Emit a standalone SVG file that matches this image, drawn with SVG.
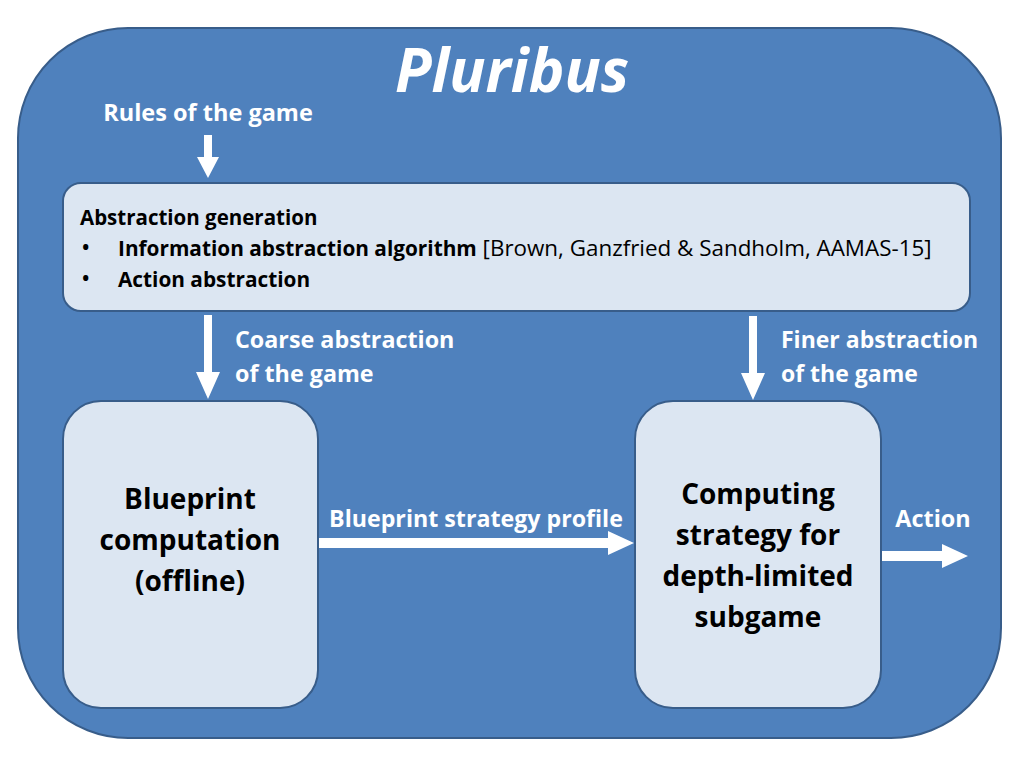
<svg xmlns="http://www.w3.org/2000/svg" width="1024" height="768" viewBox="0 0 1024 768">
<defs>
<style>
.box{fill:#dce6f2;stroke:#385d8a;stroke-width:2}
.wt{fill:#ffffff;font-family:"Open Sans","Noto Sans",sans-serif;font-weight:bold}
.bt{fill:#000000;font-family:"Open Sans","Noto Sans",sans-serif}
.arr{fill:#ffffff}
</style>
</defs>
<rect width="1024" height="768" fill="#ffffff"/>
<g id="frame">
<rect x="18" y="28" width="983" height="710" rx="110" ry="110" fill="#4f81bd" stroke="#385d8a" stroke-width="2"/>
<text x="512" y="92" text-anchor="middle" class="wt" font-style="italic" font-size="60">Pluribus</text>
<text x="208" y="121" text-anchor="middle" class="wt" font-size="23.5">Rules of the game</text>
</g>
<g id="abstraction">
<rect x="63" y="183" width="907" height="128" rx="18" ry="18" class="box"/>
<text x="80" y="225" class="bt" font-weight="bold" font-size="20.5">Abstraction generation</text>
<text x="81" y="256" class="bt" font-size="25">•</text>
<text x="118" y="256" class="bt" font-size="20.8"><tspan font-weight="bold">Information abstraction algorithm</tspan><tspan font-size="22.4"> [Brown, Ganzfried &amp; Sandholm, AAMAS-15]</tspan></text>
<text x="81" y="287" class="bt" font-size="25">•</text>
<text x="118" y="287" class="bt" font-weight="bold" font-size="20.8">Action abstraction</text>
</g>
<g id="blueprint">
<rect x="63" y="401" width="255" height="307" rx="38" ry="38" class="box"/>
<text x="190" y="509" text-anchor="middle" class="bt" font-weight="bold" font-size="28">Blueprint</text>
<text x="190" y="550" text-anchor="middle" class="bt" font-weight="bold" font-size="28">computation</text>
<text x="190" y="591" text-anchor="middle" class="bt" font-weight="bold" font-size="28">(offline)</text>
</g>
<g id="computing">
<rect x="635" y="401" width="246" height="307" rx="38" ry="38" class="box"/>
<text x="758" y="504" text-anchor="middle" class="bt" font-weight="bold" font-size="28">Computing</text>
<text x="758" y="545" text-anchor="middle" class="bt" font-weight="bold" font-size="28">strategy for</text>
<text x="758" y="586" text-anchor="middle" class="bt" font-weight="bold" font-size="28">depth-limited</text>
<text x="758" y="627" text-anchor="middle" class="bt" font-weight="bold" font-size="28">subgame</text>
</g>
<g id="connectors">
<polygon class="arr" points="204,135 212,135 212,157 219,157 208,178 197,157 204,157"/>
<polygon class="arr" points="204,315 212,315 212,372 220,372 208,399 196,372 204,372"/>
<polygon class="arr" points="749,316 757,316 757,373 765,373 753,400 741,373 749,373"/>
<polygon class="arr" points="319,538 608,538 608,531 634,543 608,555 608,548 319,548"/>
<polygon class="arr" points="882,551 942,551 942,544 968,556 942,568 942,561 882,561"/>
<text x="235" y="348" class="wt" font-size="23.3">Coarse abstraction</text>
<text x="235" y="382" class="wt" font-size="23.3">of the game</text>
<text x="781" y="348" class="wt" font-size="23">Finer abstraction</text>
<text x="781" y="382" class="wt" font-size="23">of the game</text>
<text x="476" y="527" text-anchor="middle" class="wt" font-size="23.2">Blueprint strategy profile</text>
<text x="933" y="527" text-anchor="middle" class="wt" font-size="23.4">Action</text>
</g>
</svg>
